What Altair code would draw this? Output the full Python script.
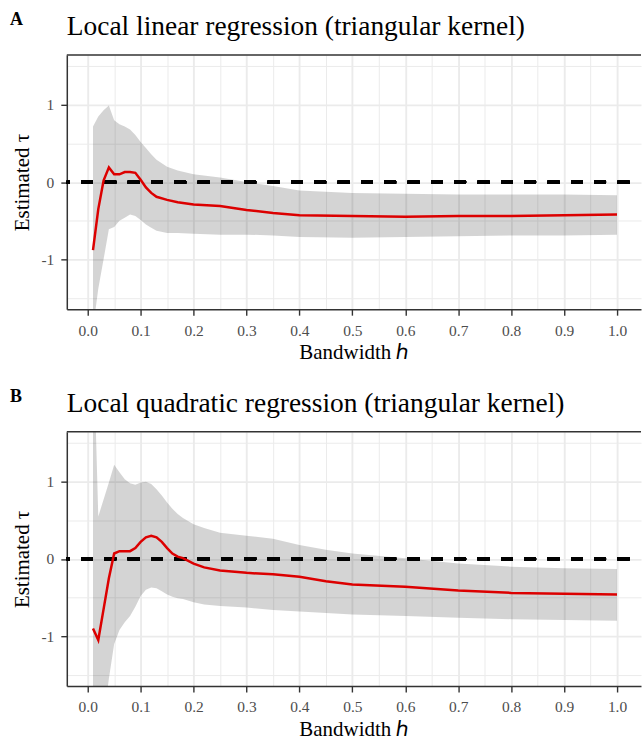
import altair as alt
import pandas as pd

# ---------------- data ----------------
h_a = [0.01, 0.02, 0.03, 0.04, 0.05, 0.06, 0.07, 0.08, 0.09, 0.10, 0.11, 0.12, 0.13,
       0.15, 0.17, 0.20, 0.25, 0.30, 0.35, 0.40, 0.50, 0.60, 0.70, 0.80, 0.90, 1.00]
est_a = [-0.88, -0.35, 0.02, 0.19, 0.10, 0.10, 0.13, 0.13, 0.12, 0.03, -0.07, -0.14, -0.19,
         -0.23, -0.26, -0.29, -0.31, -0.36, -0.40, -0.43, -0.44, -0.45, -0.44, -0.44, -0.43, -0.42]
upper_a = [0.72, 0.85, 0.93, 0.99, 0.80, 0.75, 0.72, 0.68, 0.61, 0.52, 0.44, 0.36, 0.29,
           0.20, 0.15, 0.10, 0.06, 0.00, -0.05, -0.11, -0.14, -0.15, -0.16, -0.16, -0.16, -0.17]
lower_a = [-1.90, -1.38, -1.00, -0.61, -0.58, -0.50, -0.46, -0.42, -0.44, -0.49, -0.55, -0.59, -0.63,
           -0.66, -0.66, -0.67, -0.68, -0.68, -0.69, -0.71, -0.72, -0.71, -0.70, -0.69, -0.69, -0.68]

h_b = [0.01, 0.02, 0.03, 0.04, 0.05, 0.06, 0.07, 0.08, 0.09, 0.10, 0.11, 0.12, 0.13, 0.14,
       0.15, 0.16, 0.17, 0.18, 0.20, 0.22, 0.25, 0.30, 0.35, 0.40, 0.45, 0.50, 0.60, 0.70,
       0.80, 0.90, 1.00]
est_b = [-0.90, -1.05, -0.65, -0.25, 0.07, 0.10, 0.10, 0.10, 0.14, 0.22, 0.28, 0.30, 0.28, 0.22,
         0.14, 0.07, 0.03, 0.01, -0.06, -0.11, -0.15, -0.18, -0.20, -0.23, -0.29, -0.33, -0.36, -0.41,
         -0.44, -0.45, -0.46]
upper_b = [3.00, 0.55, 0.77, 0.99, 1.22, 1.12, 1.03, 0.98, 0.96, 0.99, 1.00, 0.97, 0.90, 0.82,
           0.73, 0.65, 0.58, 0.53, 0.45, 0.40, 0.34, 0.30, 0.26, 0.18, 0.12, 0.07, 0.01, -0.06,
           -0.10, -0.12, -0.13]
lower_b = [-3.00, -2.60, -2.10, -1.55, -1.10, -0.92, -0.82, -0.74, -0.62, -0.48, -0.40, -0.37, -0.38, -0.42,
           -0.46, -0.49, -0.51, -0.52, -0.56, -0.59, -0.61, -0.63, -0.66, -0.68, -0.70, -0.72, -0.74, -0.76,
           -0.78, -0.79, -0.80]

titles = ["Local linear regression (triangular kernel)",
          "Local quadratic regression (triangular kernel)"]
tags = ["A", "B"]
x_ticks = [round(i * 0.05, 2) for i in range(21)]
y_ticks = [-1.5, -1.0, -0.5, 0.0, 0.5, 1.0, 1.5]

FONT = "Liberation Serif"
W, H = 576, 255
X_DOMAIN = [-0.0395, 1.0453]
Y_DOMAIN = [-1.645, 1.645]

x_major = "abs(datum.value*10 - round(datum.value*10)) < 0.001"
y_major = "abs(datum.value - round(datum.value)) < 0.001"


def x_enc(field):
    return alt.X(
        field, type="quantitative",
        scale=alt.Scale(domain=X_DOMAIN, nice=False, zero=False),
        axis=alt.Axis(
            values=x_ticks, title="Bandwidth ℎ",
            labelExpr=f"{x_major} ? format(datum.value, '.1f') : ''",
            gridWidth={"condition": {"test": x_major, "value": 1.9}, "value": 1.0},
            tickColor={"condition": {"test": x_major, "value": "#333333"}, "value": "transparent"},
        ),
    )


def y_enc(field):
    return alt.Y(
        field, type="quantitative",
        scale=alt.Scale(domain=Y_DOMAIN, nice=False, zero=False),
        axis=alt.Axis(
            values=y_ticks, title="Estimated τ",
            labelExpr=f"{y_major} ? '' + datum.value : ''",
            gridWidth={"condition": {"test": y_major, "value": 1.9}, "value": 1.0},
            tickColor={"condition": {"test": y_major, "value": "#333333"}, "value": "transparent"},
        ),
    )


def panel(h, est, lower, upper, title, tag):
    df = pd.DataFrame({"h": h, "est": est, "lower": lower, "upper": upper})
    base = alt.Chart(df)
    band = base.mark_area(clip=True, color="black", opacity=0.17).encode(
        x=x_enc("h"), y=y_enc("lower"), y2="upper"
    )
    zero = base.mark_rule(color="black", strokeWidth=2.7, strokeDash=[11.7, 11.7],
                          strokeDashOffset=11.7).encode(y=alt.datum(0))
    line = base.mark_line(clip=True, color="#DC0000", strokeWidth=2.5).encode(
        x=x_enc("h"), y=y_enc("est")
    )
    one = alt.Chart(alt.Data(values=[{"k": 1}]))
    top = one.mark_rule(color="#333333", strokeWidth=1.5).encode(
        x=alt.value(0), x2=alt.value(W), y=alt.value(0)
    )
    tag_text = one.mark_text(text=tag, align="left", baseline="alphabetic", font=FONT,
                             fontWeight="bold", fontSize=18, color="black").encode(
        x=alt.value(-57), y=alt.value(-30)
    )
    title_text = one.mark_text(text=title, align="left", baseline="alphabetic", font=FONT,
                               fontSize=27.5, color="black").encode(
        x=alt.value(0), y=alt.value(-20)
    )
    return alt.layer(band, zero, line, top, tag_text, title_text).properties(
        width=W, height=H
    )


chart = alt.vconcat(
    panel(h_a, est_a, lower_a, upper_a, titles[0], tags[0]),
    panel(h_b, est_b, lower_b, upper_b, titles[1], tags[1]),
    spacing=25,
).configure(
    padding={"left": 10, "top": 10, "right": 0, "bottom": 0},
    background="white",
).configure_view(stroke=None).configure_axis(
    labelFont=FONT, titleFont=FONT, labelFontSize=15.5, titleFontSize=21,
    labelColor="#4D4D4D", titleColor="black", titleFontWeight="normal",
    gridColor="#EBEBEB", domainColor="#333333", domainWidth=1.5,
    tickSize=6, tickWidth=1.4,
).configure_axisX(labelPadding=8, titlePadding=3).configure_axisY(
    labelPadding=7, titlePadding=8
)

chart.save("out.html", embed_options={"renderer": "svg", "actions": False})
